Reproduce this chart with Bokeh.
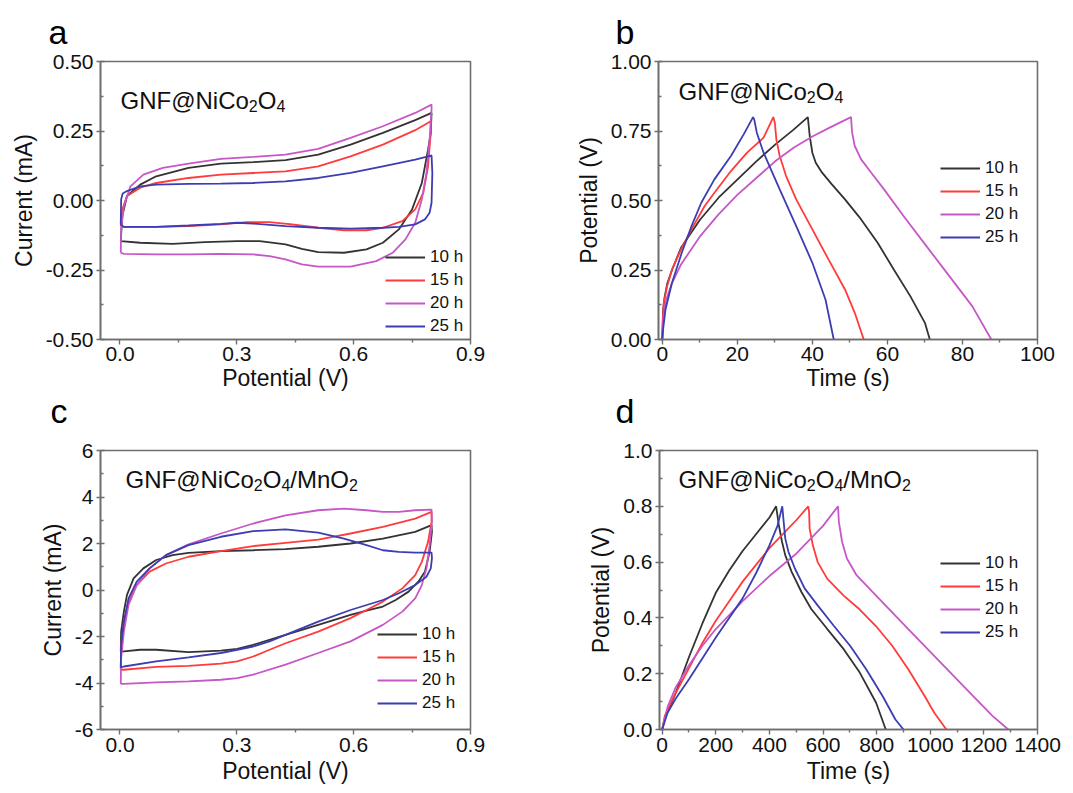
from bokeh.plotting import figure
from bokeh.layouts import column, row
from bokeh.models import Label, FixedTicker, NumeralTickFormatter, Range1d, Title
from bokeh.embed import file_html
from bokeh.resources import INLINE

# ---------------- data ----------------
series_names = ["10 h", "15 h", "20 h", "25 h"]
series_colors = ["#333333", "#ff3b3b", "#c757c7", "#3d3db3"]

# Panel a: CV, GNF@NiCo2O4 (Potential V, Current mA)
a10_x = [0.002, 0.006, 0.018, 0.052, 0.093, 0.176, 0.259, 0.342, 0.425, 0.509, 0.592, 0.675, 0.758, 0.800,
         0.798, 0.791, 0.775, 0.750, 0.716, 0.675, 0.633, 0.575, 0.509, 0.467, 0.425, 0.359, 0.301, 0.218, 0.135, 0.052, 0.002]
a10_y = [-0.146, -0.056, 0.016, 0.057, 0.087, 0.117, 0.133, 0.138, 0.145, 0.165, 0.201, 0.243, 0.289, 0.315,
         0.243, 0.183, 0.063, -0.032, -0.104, -0.152, -0.176, -0.188, -0.186, -0.174, -0.158, -0.146, -0.146, -0.150, -0.156, -0.152, -0.146]
a15_x = [0.002, 0.006, 0.018, 0.052, 0.093, 0.176, 0.259, 0.342, 0.425, 0.509, 0.592, 0.675, 0.758, 0.798,
         0.798, 0.791, 0.779, 0.758, 0.725, 0.675, 0.633, 0.575, 0.509, 0.442, 0.384, 0.326, 0.259, 0.176, 0.093, 0.010, 0.002]
a15_y = [-0.092, -0.032, 0.016, 0.046, 0.063, 0.081, 0.093, 0.099, 0.105, 0.123, 0.159, 0.201, 0.253, 0.285,
         0.243, 0.123, 0.028, -0.032, -0.074, -0.098, -0.107, -0.107, -0.098, -0.086, -0.078, -0.078, -0.086, -0.092, -0.095, -0.095, -0.092]
a20_x = [0.002, 0.003, 0.010, 0.027, 0.060, 0.110, 0.176, 0.259, 0.342, 0.425, 0.509, 0.592, 0.675, 0.758, 0.800,
         0.800, 0.795, 0.787, 0.775, 0.758, 0.733, 0.700, 0.658, 0.592, 0.509, 0.467, 0.425, 0.384, 0.342, 0.259, 0.176, 0.093, 0.010, 0.002]
a20_y = [-0.188, -0.104, -0.020, 0.051, 0.093, 0.117, 0.133, 0.150, 0.157, 0.165, 0.186, 0.225, 0.267, 0.315, 0.345,
         0.327, 0.219, 0.099, 0.004, -0.080, -0.140, -0.188, -0.218, -0.238, -0.238, -0.230, -0.212, -0.200, -0.194, -0.192, -0.194, -0.194, -0.192, -0.188]
a25_x = [0.002, 0.003, 0.007, 0.018, 0.052, 0.093, 0.176, 0.259, 0.342, 0.425, 0.509, 0.592, 0.675, 0.758, 0.791, 0.800,
         0.802, 0.800, 0.795, 0.783, 0.758, 0.716, 0.675, 0.592, 0.509, 0.425, 0.342, 0.301, 0.259, 0.176, 0.093, 0.010, 0.002]
a25_y = [-0.086, 0.004, 0.025, 0.034, 0.051, 0.057, 0.060, 0.061, 0.063, 0.069, 0.081, 0.099, 0.123, 0.147, 0.159, 0.162,
         0.099, -0.008, -0.044, -0.068, -0.086, -0.095, -0.098, -0.101, -0.098, -0.092, -0.083, -0.080, -0.084, -0.090, -0.095, -0.095, -0.086]

# Panel b: GCD, GNF@NiCo2O4 (Time s, Potential V)
b10_t = [0, 0.2, 0.6, 1.3, 2.6, 5, 10, 15, 20, 25, 30, 35, 38.8,
         39.3, 40, 40.9, 42.6, 45.2, 48.7, 53, 57.4, 61.7, 66.1, 70, 71.3]
b10_v = [0, 0.10, 0.15, 0.20, 0.25, 0.33, 0.43, 0.51, 0.575, 0.64, 0.70, 0.755, 0.80,
         0.732, 0.672, 0.636, 0.60, 0.558, 0.504, 0.432, 0.348, 0.252, 0.156, 0.06, 0]
b15_t = [0, 0.2, 0.4, 1.3, 2.6, 5.2, 7.8, 11.3, 13.9, 18.3, 22.6, 27, 29.6,
         30, 30.4, 31.3, 33, 35.7, 40, 44.3, 48.7, 51.3, 53.7]
b15_v = [0, 0.084, 0.132, 0.192, 0.252, 0.33, 0.396, 0.48, 0.528, 0.606, 0.672, 0.726, 0.80,
         0.78, 0.72, 0.66, 0.588, 0.504, 0.396, 0.288, 0.18, 0.096, 0]
b20_t = [0, 0.3, 1, 2.5, 5, 10, 15, 20, 25, 30, 35, 40, 45, 50.3,
         50.6, 51.3, 53, 55.7, 59.1, 64.3, 70.4, 76.5, 82.6, 87.7]
b20_v = [0, 0.08, 0.14, 0.20, 0.27, 0.37, 0.45, 0.52, 0.58, 0.64, 0.69, 0.73, 0.765, 0.80,
         0.744, 0.696, 0.648, 0.60, 0.54, 0.444, 0.336, 0.228, 0.12, 0]
b25_t = [0, 0.17, 0.87, 2.6, 5.2, 7.8, 10.4, 13.9, 18.3, 21.7, 24.2,
         24.5, 25.2, 27, 31.3, 35.7, 40, 43.5, 45.7]
b25_v = [0, 0.03, 0.108, 0.204, 0.312, 0.408, 0.492, 0.576, 0.66, 0.738, 0.80,
         0.792, 0.744, 0.672, 0.54, 0.408, 0.276, 0.144, 0]

# Panel c: CV, GNF@NiCo2O4/MnO2
c10_x = [0.002, 0.003, 0.010, 0.018, 0.035, 0.060, 0.093, 0.135, 0.176, 0.259, 0.342, 0.425, 0.509, 0.592, 0.675, 0.758, 0.800,
         0.801, 0.795, 0.783, 0.766, 0.741, 0.708, 0.675, 0.633, 0.592, 0.509, 0.425, 0.342, 0.301, 0.259, 0.176, 0.093, 0.052, 0.010, 0.002]
c10_y = [-2.64, -1.79, -0.93, -0.21, 0.50, 0.93, 1.29, 1.50, 1.60, 1.67, 1.71, 1.76, 1.86, 2.00, 2.21, 2.50, 2.79,
         2.50, 1.64, 0.79, 0.36, -0.07, -0.43, -0.71, -0.89, -1.07, -1.50, -1.93, -2.36, -2.53, -2.61, -2.67, -2.57, -2.57, -2.64, -2.64]
c15_x = [0.002, 0.003, 0.010, 0.022, 0.043, 0.076, 0.118, 0.176, 0.259, 0.342, 0.425, 0.509, 0.592, 0.675, 0.758, 0.800,
         0.800, 0.791, 0.775, 0.758, 0.725, 0.675, 0.633, 0.592, 0.509, 0.425, 0.384, 0.342, 0.301, 0.259, 0.176, 0.093, 0.010, 0.002]
c15_y = [-3.43, -2.36, -1.36, -0.50, 0.21, 0.79, 1.14, 1.43, 1.67, 1.89, 2.03, 2.17, 2.43, 2.71, 3.07, 3.36,
         2.93, 2.07, 1.21, 0.64, 0.07, -0.50, -0.86, -1.21, -1.79, -2.29, -2.57, -2.86, -3.07, -3.17, -3.26, -3.31, -3.43, -3.43]
c20_x = [0.002, 0.003, 0.010, 0.022, 0.043, 0.076, 0.118, 0.176, 0.259, 0.342, 0.425, 0.509, 0.575, 0.633, 0.675, 0.716, 0.758, 0.800,
         0.801, 0.795, 0.787, 0.775, 0.758, 0.725, 0.675, 0.592, 0.509, 0.425, 0.342, 0.301, 0.259, 0.176, 0.093, 0.010, 0.002]
c20_y = [-4.04, -2.93, -1.79, -0.64, 0.21, 0.93, 1.50, 1.96, 2.43, 2.86, 3.21, 3.43, 3.50, 3.43, 3.36, 3.36, 3.43, 3.46,
         2.93, 1.93, 0.93, 0.21, -0.36, -0.93, -1.50, -2.21, -2.71, -3.21, -3.64, -3.79, -3.86, -3.93, -3.97, -4.04, -4.04]
c25_x = [0.002, 0.003, 0.010, 0.022, 0.043, 0.076, 0.118, 0.176, 0.259, 0.342, 0.425, 0.509, 0.575, 0.633, 0.675, 0.716, 0.758, 0.800,
         0.801, 0.798, 0.787, 0.758, 0.716, 0.675, 0.592, 0.509, 0.425, 0.384, 0.342, 0.301, 0.259, 0.176, 0.093, 0.010, 0.002]
c25_y = [-3.33, -2.36, -1.36, -0.36, 0.36, 0.93, 1.50, 1.93, 2.29, 2.53, 2.61, 2.47, 2.21, 1.93, 1.71, 1.64, 1.61, 1.61,
         1.36, 0.93, 0.57, 0.21, -0.14, -0.43, -0.86, -1.36, -1.93, -2.21, -2.43, -2.57, -2.71, -2.90, -3.07, -3.29, -3.33]

# Panel d: GCD, GNF@NiCo2O4/MnO2
d10_t = [0, 10, 50, 100, 150, 200, 250, 300, 350, 400, 425,
         428, 435, 447, 459, 483, 520, 556, 616, 677, 737, 798, 834]
d10_v = [0, 0.04, 0.13, 0.26, 0.38, 0.49, 0.57, 0.64, 0.70, 0.76, 0.80,
         0.78, 0.733, 0.673, 0.625, 0.565, 0.492, 0.432, 0.36, 0.288, 0.204, 0.096, 0]
d15_t = [0, 10, 50, 100, 150, 200, 250, 300, 350, 400, 450, 500, 545,
         548, 550, 562, 580, 616, 677, 737, 798, 858, 918, 979, 1015, 1060]
d15_v = [0, 0.05, 0.13, 0.22, 0.31, 0.39, 0.46, 0.53, 0.59, 0.65, 0.70, 0.75, 0.80,
         0.78, 0.72, 0.66, 0.60, 0.54, 0.48, 0.43, 0.37, 0.30, 0.216, 0.12, 0.06, 0]
d20_t = [0, 20, 50, 100, 150, 200, 300, 400, 500, 600, 656,
         659, 671, 689, 725, 798, 858, 918, 1039, 1160, 1233, 1291]
d20_v = [0, 0.08, 0.15, 0.23, 0.30, 0.36, 0.46, 0.55, 0.63, 0.73, 0.80,
         0.745, 0.673, 0.613, 0.553, 0.48, 0.42, 0.36, 0.24, 0.12, 0.048, 0]
d25_t = [0, 20, 50, 100, 200, 300, 350, 400, 430, 448,
         452, 459, 471, 495, 532, 580, 640, 701, 761, 822, 870, 900]
d25_v = [0, 0.06, 0.11, 0.18, 0.33, 0.47, 0.56, 0.66, 0.73, 0.80,
         0.757, 0.685, 0.637, 0.577, 0.505, 0.445, 0.372, 0.30, 0.216, 0.12, 0.036, 0]

panel_letters = ["a", "b", "c", "d"]
# sample names as (text, is_subscript) pieces
name_plain = [("GNF@NiCo", False), ("2", True), ("O", False), ("4", True)]
name_mn = name_plain + [("/MnO", False), ("2", True)]

FONT = "Liberation Sans"
AXIS_COLOR = "#6e6e6e"
BASE_PX = 24
SUB_PX = 16
LETTER_PX = "34px"
# Arial / Liberation Sans advance widths (em)
ADV = {"G": .778, "N": .722, "F": .611, "@": 1.015, "i": .222, "C": .722, "o": .556,
       "O": .778, "/": .278, "M": .833, "n": .556, "2": .556, "4": .556}


def add_name(p, pieces, x0, y0):
    x = x0
    for txt, sub in pieces:
        size = SUB_PX if sub else BASE_PX
        p.add_layout(Label(x=x, y=y0 + (5 if sub else 0), x_units="canvas", y_units="canvas",
                           text=txt, text_font=FONT, text_font_size=f"{size}px",
                           text_color="#111111", text_baseline="alphabetic"))
        x += sum(ADV[ch] for ch in txt) * size


def letter_title(text, offset, standoff):
    return Title(text=text, align="left", vertical_align="top", offset=offset, standoff=standoff,
                 text_font=FONT, text_font_size=LETTER_PX, text_font_style="normal", text_color="#000000")


def make_panel(fw, fh, borders, xr, yr, xticks, xminor, yticks, yminor,
               xfmt, yfmt, xlabel, ylabel, series, name, name_pos, legend_pos,
               top_letter=None, bottom_letter=None, x_label_standoff=3, x_tick_standoff=3):
    left, right, top, bottom = borders
    p = figure(frame_width=fw, frame_height=fh, output_backend="svg", toolbar_location=None,
               x_range=Range1d(*xr), y_range=Range1d(*yr),
               min_border_left=left, min_border_right=right,
               min_border_top=top, min_border_bottom=bottom)
    p.grid.visible = False
    p.background_fill_color = "white"
    p.border_fill_color = "white"
    p.outline_line_color = AXIS_COLOR
    p.outline_line_width = 1.6

    for (xs, ys), nm, col in zip(series, series_names, series_colors):
        p.line(xs, ys, line_color=col, line_width=1.8, legend_label=nm)

    xa = p.xaxis[0]
    ya = p.yaxis[0]
    xa.ticker = FixedTicker(ticks=xticks, minor_ticks=xminor)
    ya.ticker = FixedTicker(ticks=yticks, minor_ticks=yminor)
    xa.formatter = NumeralTickFormatter(format=xfmt)
    ya.formatter = NumeralTickFormatter(format=yfmt)
    for ax in (xa, ya):
        ax.axis_line_color = AXIS_COLOR
        ax.axis_line_width = 1.6
        ax.major_tick_line_color = AXIS_COLOR
        ax.minor_tick_line_color = AXIS_COLOR
        ax.major_tick_line_width = 1.4
        ax.minor_tick_line_width = 1.4
        ax.major_label_text_font = FONT
        ax.major_label_text_font_size = "21px"
        ax.major_label_text_color = "#111111"
        ax.axis_label_text_font = FONT
        ax.axis_label_text_font_size = "23px"
        ax.axis_label_text_font_style = "normal"
        ax.axis_label_text_color = "#111111"
    xa.axis_label = xlabel
    ya.axis_label = ylabel
    xa.major_tick_in = 0
    xa.major_tick_out = 5
    xa.minor_tick_in = 0
    xa.minor_tick_out = 3
    ya.major_tick_in = 4
    ya.major_tick_out = 4
    ya.minor_tick_in = 3
    ya.minor_tick_out = 0
    xa.major_label_standoff = x_tick_standoff
    ya.major_label_standoff = 3
    xa.axis_label_standoff = x_label_standoff
    ya.axis_label_standoff = 6

    lg = p.legend[0]
    lg.location = legend_pos
    lg.padding = 0
    lg.margin = 0
    lg.spacing = 3
    lg.glyph_width = 40
    lg.glyph_height = 20
    lg.label_height = 20
    lg.label_standoff = 5
    lg.label_text_font = FONT
    lg.label_text_font_size = "17px"
    lg.label_text_color = "#111111"
    lg.background_fill_alpha = 0
    lg.border_line_alpha = 0

    if top_letter is not None:
        p.add_layout(letter_title(*top_letter), "above")
    if bottom_letter is not None:
        p.add_layout(letter_title(*bottom_letter), "below")
    add_name(p, name, name_pos[0], name_pos[1])
    return p


ROW2_TOP = 21
LOW_STANDOFF = -4

pa = make_panel(370, 278, (100, 70, 61, 10), (-0.05, 0.9), (-0.5, 0.5),
                [0.0, 0.3, 0.6, 0.9], [0.15, 0.45, 0.75],
                [-0.5, -0.25, 0.0, 0.25, 0.5], [-0.375, -0.125, 0.125, 0.375],
                "0.0", "0.00", "Potential (V)", "Current (mA)",
                [(a10_x, a10_y), (a15_x, a15_y), (a20_x, a20_y), (a25_x, a25_y)],
                name_plain, (120, 100), (285, 3),
                top_letter=(panel_letters[0], -52, 18), bottom_letter=(panel_letters[2], -50, LOW_STANDOFF),
                x_label_standoff=1, x_tick_standoff=2)

pb = make_panel(379, 278, (118, 28, 61, 10), (-1, 100), (0, 1),
                [0, 20, 40, 60, 80, 100], [10, 30, 50, 70, 90],
                [0, 0.25, 0.5, 0.75, 1.0], [0.125, 0.375, 0.625, 0.875],
                "0", "0.00", "Time (s)", "Potential (V)",
                [(b10_t, b10_v), (b15_t, b15_v), (b20_t, b20_v), (b25_t, b25_v)],
                name_plain, (138, 91), (282, 92),
                top_letter=(panel_letters[1], -43, 18), bottom_letter=(panel_letters[3], -43, LOW_STANDOFF),
                x_label_standoff=1, x_tick_standoff=2)

pc = make_panel(370, 279, (100, 70, ROW2_TOP, 58), (-0.05, 0.9), (-6, 6),
                [0.0, 0.3, 0.6, 0.9], [0.15, 0.45, 0.75],
                [-6, -4, -2, 0, 2, 4, 6], [-5, -3, -1, 1, 3, 5],
                "0.0", "0", "Potential (V)", "Current (mA)",
                [(c10_x, c10_y), (c15_x, c15_y), (c20_x, c20_y), (c25_x, c25_y)],
                name_mn, (125, ROW2_TOP + 29), (277, 16))

pd_ = make_panel(378, 279, (119, 28, ROW2_TOP, 58), (-10, 1400), (0, 1),
                 [0, 200, 400, 600, 800, 1000, 1200, 1400], [100, 300, 500, 700, 900, 1100, 1300],
                 [0, 0.2, 0.4, 0.6, 0.8, 1.0], [0.1, 0.3, 0.5, 0.7, 0.9],
                 "0", "0.0", "Time (s)", "Potential (V)",
                 [(d10_t, d10_v), (d15_t, d15_v), (d20_t, d20_v), (d25_t, d25_v)],
                 name_mn, (138, ROW2_TOP + 29), (281, 87))

layout = column(row(pa, pb), row(pc, pd_))
open("out.html", "w").write(file_html(layout, INLINE))
